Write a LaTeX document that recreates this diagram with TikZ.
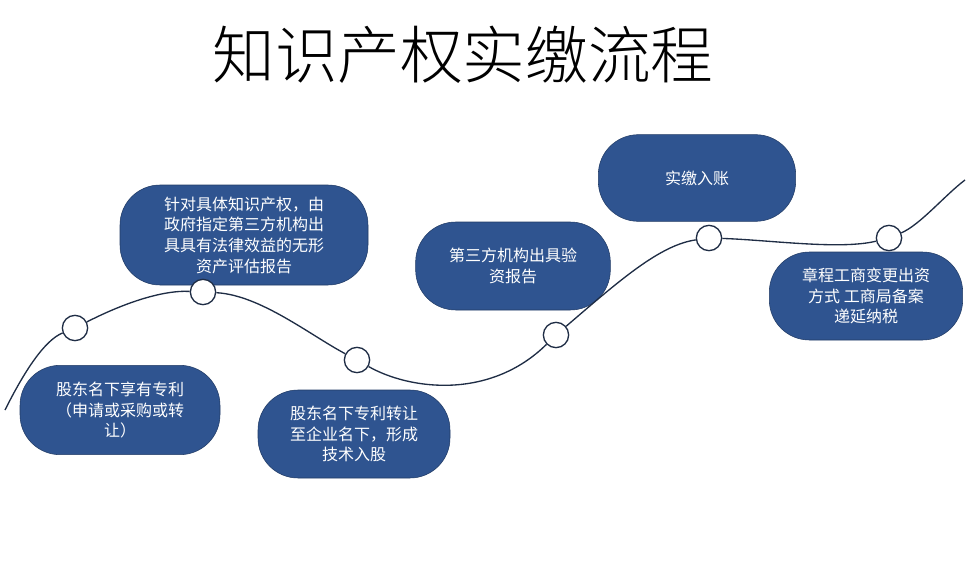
\documentclass[tikz,border=0pt]{standalone}
\usepackage{fontspec}
\setmainfont{Noto Sans CJK SC}
\newfontfamily\titlefont{Noto Sans CJK SC Light}
\definecolor{boxblue}{HTML}{2F5490}
\definecolor{edge}{HTML}{1F2D45}
\begin{document}
\begin{tikzpicture}[x=0.75pt,y=-0.75pt,
  pill/.style={fill=boxblue,draw=boxblue!70!black,rounded corners=30pt,text=white,align=center,font=\fontsize{12pt}{15.5pt}\selectfont,inner sep=0pt},
  dot/.style={circle,draw=edge,fill=white,line width=1pt,minimum size=19pt,inner sep=0pt}]
\useasboundingbox (0,0) rectangle (976,571);
\node[font=\titlefont\fontsize{47pt}{50pt}\selectfont] (title) at (463,55) {知识产权实缴流程};
\node[pill,minimum width=150pt,minimum height=67pt] (b1) at (120,410) {股东名下享有专利\\（申请或采购或转\\让）};
\node[pill,minimum width=186pt,minimum height=75pt] (b2) at (244,235) {针对具体知识产权，由\\政府指定第三方机构出\\具具有法律效益的无形\\资产评估报告};
\node[pill,minimum width=144pt,minimum height=66pt] (b3) at (354,434) {股东名下专利转让\\至企业名下，形成\\技术入股};
\node[pill,minimum width=146pt,minimum height=66pt] (b4) at (513,266) {第三方机构出具验\\资报告};
\node[pill,minimum width=148pt,minimum height=65pt] (b5) at (697,178) {实缴入账};
\node[pill,minimum width=145pt,minimum height=66pt] (b6) at (866,296) {章程工商变更出资\\方式 工商局备案\\递延纳税};
\coordinate (s) at (5,410);
\coordinate (e) at (965,180);
\node[dot] (c1) at (75,328) {};
\node[dot] (c2) at (203,292) {};
\node[dot] (c3) at (357,360) {};
\node[dot] (c4) at (556,335) {};
\node[dot] (c5) at (709,238) {};
\node[dot] (c6) at (889,238) {};
\draw[edge,line width=1pt] (s) .. controls (25,370) and (45,340) .. (c1)
  (c1) .. controls (120,305) and (160,290) .. (c2)
  (c2) .. controls (260,295) and (310,335) .. (c3)
  (c3) .. controls (410,390) and (490,400) .. (c4)
  (c4) .. controls (620,280) and (660,245) .. (c5)
  (c5) .. controls (770,240) and (840,250) .. (c6)
  (c6) .. controls (920,225) and (945,195) .. (e);
\end{tikzpicture}
\end{document}
